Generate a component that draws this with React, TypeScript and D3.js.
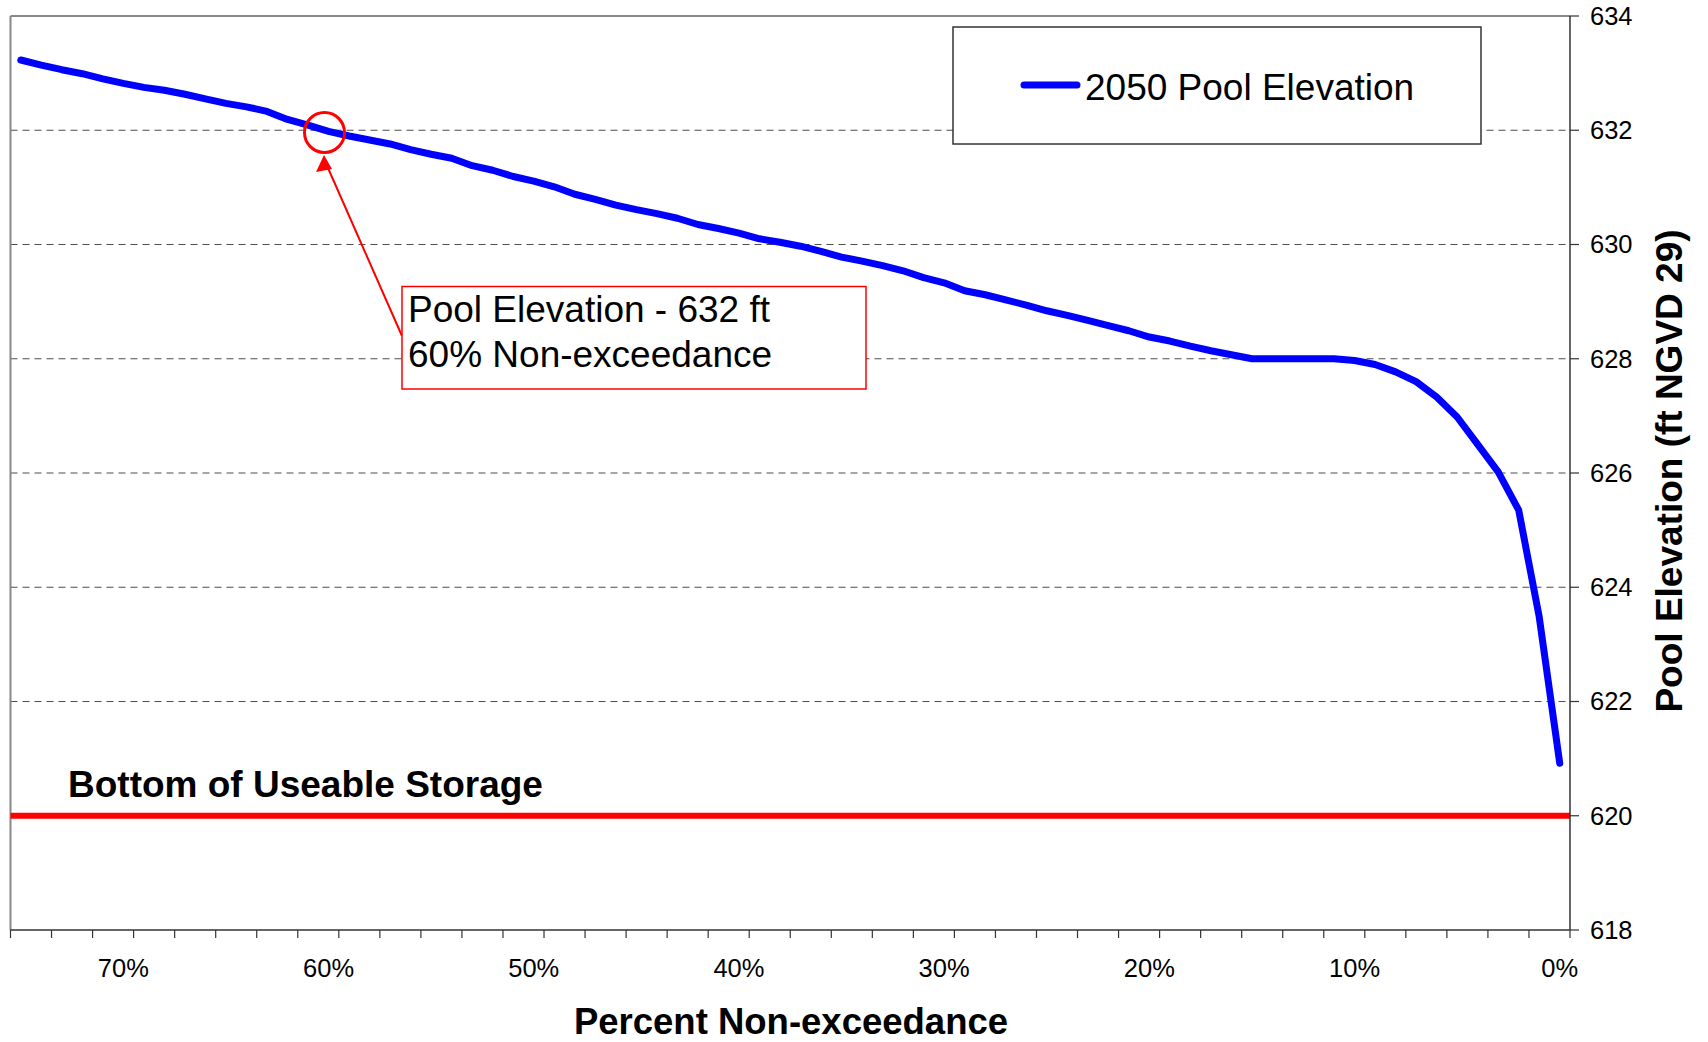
import React from "react";
import * as d3 from "d3";

// percent non-exceedance categories, left to right
const percentCats = [
  75, 74, 73, 72, 71, 70, 69, 68, 67, 66, 65, 64, 63, 62, 61, 60, 59, 58, 57,
  56, 55, 54, 53, 52, 51, 50, 49, 48, 47, 46, 45, 44, 43, 42, 41, 40, 39, 38,
  37, 36, 35, 34, 33, 32, 31, 30, 29, 28, 27, 26, 25, 24, 23, 22, 21, 20, 19,
  18, 17, 16, 15, 14, 13, 12, 11, 10, 9, 8, 7, 6, 5, 4, 3, 2, 1, 0,
];

// 2050 pool elevation (ft NGVD 29), same order as percentCats
const poolElevation2050 = [
  633.23, 633.14, 633.06, 632.99, 632.9, 632.82, 632.75, 632.7, 632.63, 632.55,
  632.47, 632.41, 632.33, 632.19, 632.09, 631.98, 631.9, 631.83, 631.76, 631.66,
  631.58, 631.51, 631.38, 631.3, 631.19, 631.11, 631.01, 630.88, 630.79, 630.69,
  630.61, 630.54, 630.46, 630.35, 630.28, 630.2, 630.1, 630.04, 629.97, 629.88,
  629.78, 629.71, 629.63, 629.54, 629.42, 629.33, 629.19, 629.12, 629.03, 628.94,
  628.84, 628.76, 628.67, 628.58, 628.49, 628.38, 628.31, 628.22, 628.14, 628.07,
  628.0, 628.0, 628.0, 628.0, 628.0, 627.97, 627.9, 627.77, 627.6, 627.33,
  626.98, 626.5, 626.02, 625.35, 623.48, 620.92,
];

const xLabelCats = [70, 60, 50, 40, 30, 20, 10, 0];
const yTickValues = [618, 620, 622, 624, 626, 628, 630, 632, 634];
const gridValues = [622, 624, 626, 628, 630, 632];
const bottomOfStorage = 620;

const W = 1708;
const H = 1042;
const plot = { left: 10.5, right: 1570, top: 16, bottom: 930 };
const FONT = "'Liberation Sans', Arial, sans-serif";

const App = () => {
  const x = d3
    .scaleBand<number>()
    .domain(percentCats)
    .range([plot.left, plot.right])
    .padding(0);
  const bw = x.bandwidth();
  const cx = (p: number) => (x(p) as number) + bw / 2;

  const y = d3.scaleLinear().domain([618, 634]).range([plot.bottom, plot.top]);

  const pts = percentCats.map((p, i) => [cx(p), y(poolElevation2050[i])] as [number, number]);
  const linePath = d3.line()(pts) || "";

  // tick marks every 2 categories, at band edges
  const xTicks = percentCats
    .filter((_, i) => i % 2 === 0)
    .map((p) => x(p) as number)
    .concat([plot.right]);

  return (
    <svg
      width={W}
      height={H}
      style={{ position: "absolute", left: 0, top: 0, background: "#fff" }}
      fontFamily={FONT}
    >
      <rect x={0} y={0} width={W} height={H} fill="#fff" />

      {/* gridlines */}
      {gridValues.map((v) => (
        <line
          key={v}
          x1={plot.left}
          x2={plot.right}
          y1={y(v)}
          y2={y(v)}
          stroke="#4d4d4d"
          strokeWidth={1.2}
          strokeDasharray="7,5"
        />
      ))}

      {/* plot border */}
      <line x1={plot.left} x2={plot.right} y1={plot.top} y2={plot.top} stroke="#888" strokeWidth={2} />
      <line x1={plot.left} x2={plot.left} y1={plot.top} y2={plot.bottom} stroke="#888" strokeWidth={2} />

      {/* bottom of useable storage */}
      <line
        x1={plot.left}
        x2={plot.right}
        y1={y(bottomOfStorage)}
        y2={y(bottomOfStorage)}
        stroke="#ff0000"
        strokeWidth={6}
      />
      <text x={68} y={797} fontSize={37} fontWeight="bold" fill="#000">
        Bottom of Useable Storage
      </text>

      {/* series */}
      <path
        d={linePath}
        fill="none"
        stroke="#0000ff"
        strokeWidth={7}
        strokeLinecap="round"
        strokeLinejoin="round"
      />

      {/* x axis */}
      <line x1={plot.left} x2={plot.right} y1={plot.bottom} y2={plot.bottom} stroke="#333" strokeWidth={1.5} />
      {xTicks.map((tx, i) => (
        <line key={i} x1={tx} x2={tx} y1={plot.bottom} y2={plot.bottom + 8} stroke="#333" strokeWidth={1.2} />
      ))}
      {xLabelCats.map((p) => (
        <text key={p} x={cx(p)} y={977} fontSize={25.5} textAnchor="middle" fill="#000">
          {p}%
        </text>
      ))}
      <text x={791} y={1034} fontSize={36.5} fontWeight="bold" textAnchor="middle" fill="#000">
        Percent Non-exceedance
      </text>

      {/* y axis on the right */}
      <line x1={plot.right} x2={plot.right} y1={plot.top} y2={plot.bottom} stroke="#333" strokeWidth={1.5} />
      {yTickValues.map((v) => (
        <g key={v}>
          <line x1={plot.right} x2={plot.right + 9} y1={y(v)} y2={y(v)} stroke="#333" strokeWidth={1.2} />
          <text x={1590} y={y(v)} dy="0.35em" fontSize={25.5} fill="#000">
            {v}
          </text>
        </g>
      ))}
      <text
        transform="translate(1682,471) rotate(-90)"
        fontSize={37}
        fontWeight="bold"
        textAnchor="middle"
        fill="#000"
      >
        Pool Elevation (ft NGVD 29)
      </text>

      {/* legend */}
      <rect x={953} y={27} width={528} height={117} fill="#fff" stroke="#333" strokeWidth={1.5} />
      <line x1={1024} x2={1077} y1={85} y2={85} stroke="#0000ff" strokeWidth={7} strokeLinecap="round" />
      <text x={1085} y={100} fontSize={37} fill="#000">
        2050 Pool Elevation
      </text>

      {/* annotation */}
      <circle cx={324.5} cy={132.5} r={20} fill="none" stroke="#ff0000" strokeWidth={3} />
      <line x1={402} x2={328} y1={336} y2={168} stroke="#ff0000" strokeWidth={2} />
      <polygon points="324,155 316,172 332,169" fill="#ff0000" />
      <rect x={402} y={286.5} width={464} height={102.5} fill="#fff" stroke="#ff0000" strokeWidth={1.5} />
      <text x={408} y={322} fontSize={37} fill="#000">
        Pool Elevation - 632 ft
      </text>
      <text x={408} y={367} fontSize={37} fill="#000">
        60% Non-exceedance
      </text>
    </svg>
  );
};

export default App;
